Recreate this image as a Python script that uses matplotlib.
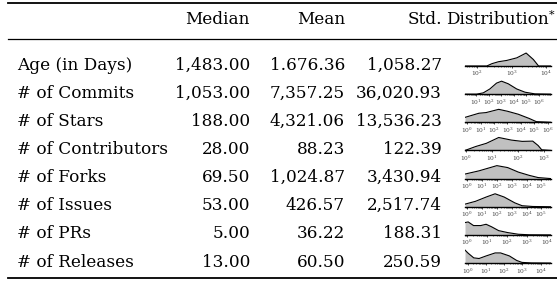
import matplotlib
matplotlib.use("Agg")
import matplotlib.pyplot as plt
import numpy as np

plt.rcParams['font.family'] = ['DejaVu Serif']
plt.rcParams['mathtext.fontset'] = 'dejavuserif'

W, H = 557, 282

# table content
headers = ["Median", "Mean", "Std.", "Distribution"]
labels = ["Age (in Days)", "# of Commits", "# of Stars", "# of Contributors",
          "# of Forks", "# of Issues", "# of PRs", "# of Releases"]
median = ["1,483.00", "1,053.00", "188.00", "28.00", "69.50", "53.00", "5.00", "13.00"]
mean = ["1.676.36", "7,357.25", "4,321.06", "88.23", "1,024.87", "426.57", "36.22", "60.50"]
std = ["1,058.27", "36,020.93", "13,536.23", "122.39", "3,430.94", "2,517.74", "188.31", "250.59"]

# sparkline data: log10 value positions and relative density
age_x = [1.65, 2.28, 2.43, 2.62, 2.86, 3.15, 3.42, 3.63, 3.78, 4.14]
age_y = [0, 0, 0.18, 0.33, 0.43, 0.63, 1.0, 0.5, 0.0, 0]
commits_x = [0.13, 1.05, 1.58, 2.1, 2.63, 3.03, 3.56, 4.23, 4.89, 5.68, 6.95]
commits_y = [0, 0, 0.1, 0.4, 0.85, 1.0, 0.8, 0.4, 0.15, 0.02, 0]
stars_x = [-0.16, 0.88, 1.41, 2.35, 3.01, 3.81, 4.61, 5.15, 6.24]
stars_y = [0.38, 0.7, 0.75, 1.0, 0.85, 0.62, 0.3, 0.05, 0]
contrib_x = [-0.05, 0.36, 0.78, 1.26, 1.75, 2.17, 2.58, 2.79, 2.93, 3.29]
contrib_y = [0, 0.3, 0.55, 1.0, 0.8, 0.7, 0.72, 0.38, 0.05, 0]
forks_x = [-0.15, 0.8, 2.0, 2.73, 3.45, 4.18, 4.78, 5.65]
forks_y = [0.35, 0.6, 1.0, 0.85, 0.5, 0.25, 0.08, 0]
issues_x = [-0.15, 0.56, 1.28, 1.88, 2.49, 3.21, 3.7, 4.42, 5.65]
issues_y = [0.2, 0.42, 0.75, 1.0, 0.75, 0.3, 0.08, 0.02, 0]
prs_x = [-0.12, 0.04, 0.31, 0.67, 0.94, 1.21, 1.57, 2.02, 2.56, 3.1, 4.2]
prs_y = [0.95, 1.0, 0.72, 0.72, 0.82, 0.63, 0.33, 0.18, 0.05, 0.01, 0]
rel_x = [-0.14, 0.04, 0.34, 0.63, 1.02, 1.51, 1.81, 2.29, 2.69, 2.98, 3.5, 4.57]
rel_y = [1.0, 0.75, 0.4, 0.35, 0.55, 0.78, 0.78, 0.55, 0.2, 0.05, 0.01, 0]

dists = [(age_x, age_y, [2, 3, 4]),
         (commits_x, commits_y, [1, 2, 3, 4, 5, 6]),
         (stars_x, stars_y, [0, 1, 2, 3, 4, 5, 6]),
         (contrib_x, contrib_y, [0, 1, 2, 3]),
         (forks_x, forks_y, [0, 1, 2, 3, 4, 5]),
         (issues_x, issues_y, [0, 1, 2, 3, 4, 5]),
         (prs_x, prs_y, [0, 1, 2, 3, 4]),
         (rel_x, rel_y, [0, 1, 2, 3, 4])]

fig = plt.figure(figsize=(W / 100, H / 100), dpi=100)
ax = fig.add_axes([0, 0, 1, 1])
ax.set_xlim(0, W)
ax.set_ylim(H, 0)
ax.axis('off')

FS = 12.2

# rules
ax.plot([8, W], [3, 3], color='black', lw=1.3)
ax.plot([8, W], [39, 39], color='black', lw=0.9)
ax.plot([8, W], [278, 278], color='black', lw=1.3)

# header
head_y = 20
ax.text(250, head_y, headers[0], ha='right', va='center', fontsize=FS)
ax.text(345, head_y, headers[1], ha='right', va='center', fontsize=FS)
ax.text(442, head_y, headers[2], ha='right', va='center', fontsize=FS)
ax.text(446, head_y, headers[3], ha='left', va='center', fontsize=FS)
ax.text(549, head_y - 5, "*", ha='left', va='center', fontsize=8)

row_y = [65 + 28.15 * i for i in range(len(labels))]
for i, y in enumerate(row_y):
    ax.text(17, y, labels[i], ha='left', va='center', fontsize=FS)
    ax.text(250, y, median[i], ha='right', va='center', fontsize=FS)
    ax.text(345, y, mean[i], ha='right', va='center', fontsize=FS)
    ax.text(442, y, std[i], ha='right', va='center', fontsize=FS)

    xs, ys, ticks = dists[i]
    left, right = 465, 551
    sp = fig.add_axes([left / W, 1 - (y + 1) / H, (right - left) / W, 14 / H])
    sp.fill_between(xs, ys, 0, color='#c0c0c0', lw=0)
    sp.plot(xs, ys, color='black', lw=0.8)
    sp.set_xlim(xs[0], xs[-1])
    sp.set_ylim(0, 1.08)
    sp.patch.set_alpha(0)
    for s in ['top', 'left', 'right']:
        sp.spines[s].set_visible(False)
    sp.spines['bottom'].set_linewidth(1.0)
    sp.set_yticks([])
    sp.set_xticks(ticks)
    sp.set_xticklabels([r'$10^{%d}$' % t for t in ticks], fontsize=4.2, color='#444444')
    minors = [t + np.log10(m) for t in range(min(ticks) - 1, max(ticks) + 1) for m in range(2, 10)]
    minors = [m for m in minors if xs[0] <= m <= xs[-1]]
    sp.set_xticks(minors, minor=True)
    sp.tick_params(axis='x', which='major', length=1.5, width=0.5, pad=0.8)
    sp.tick_params(axis='x', which='minor', length=1.0, width=0.4)

fig.savefig("out.png", dpi=100)
